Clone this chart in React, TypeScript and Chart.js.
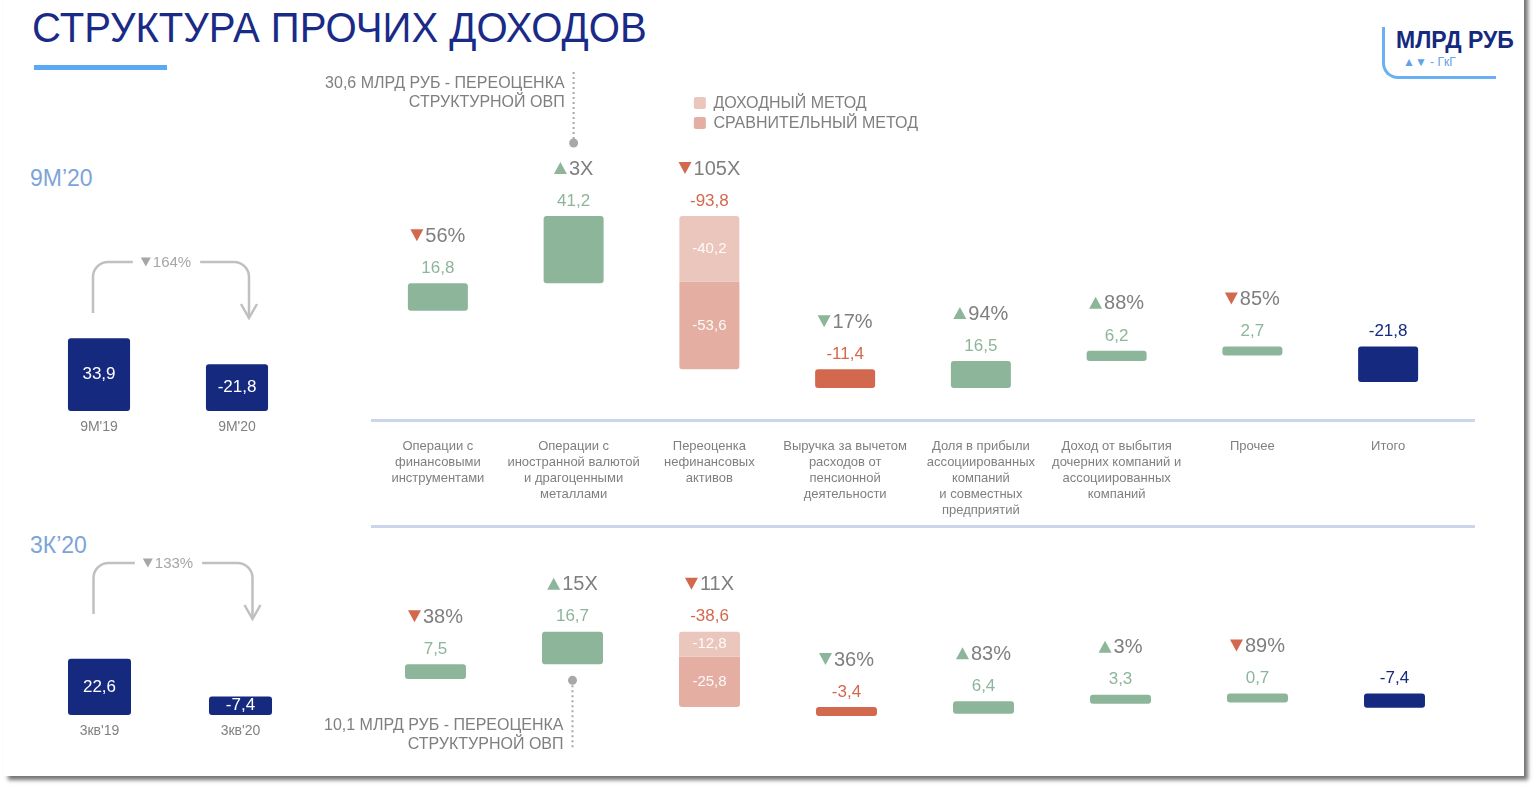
import React, { useEffect, useRef } from "react";
import { Chart, registerables } from "chart.js";
Chart.register(...registerables);

// ---------------- DATA ----------------
const categories: string[][] = [
  ["Операции с", "финансовыми", "инструментами"],
  ["Операции с", "иностранной валютой", "и драгоценными", "металлами"],
  ["Переоценка", "нефинансовых", "активов"],
  ["Выручка за вычетом", "расходов от", "пенсионной", "деятельности"],
  ["Доля в прибыли", "ассоциированных", "компаний", "и совместных", "предприятий"],
  ["Доход от выбытия", "дочерних компаний и", "ассоциированных", "компаний"],
  ["Прочее"],
  ["Итого"],
];

const steps9m = [16.8, 41.2, -93.8, -11.4, 16.5, 6.2, 2.7];
const total9m = -21.8;
const revaluationParts9m = [-40.2, -53.6]; // доходный, сравнительный метод
const change9m = ["56%", "3X", "105X", "17%", "94%", "88%", "85%"];
const changeUp9m = [false, true, false, false, true, true, false];
const changeGood9m = [false, true, false, true, true, true, false];
const callout9m = ["30,6 МЛРД РУБ - ПЕРЕОЦЕНКА", "СТРУКТУРНОЙ ОВП"];

const steps3q = [7.5, 16.7, -38.6, -3.4, 6.4, 3.3, 0.7];
const total3q = -7.4;
const revaluationParts3q = [-12.8, -25.8];
const change3q = ["38%", "15X", "11X", "36%", "83%", "3%", "89%"];
const changeUp3q = [false, true, false, false, true, true, false];
const changeGood3q = [false, true, false, true, true, true, false];
const callout3q = ["10,1 МЛРД РУБ - ПЕРЕОЦЕНКА", "СТРУКТУРНОЙ ОВП"];

const legendLabels = ["ДОХОДНЫЙ МЕТОД", "СРАВНИТЕЛЬНЫЙ МЕТОД"];
const SPLIT_INDEX = 2;
const CALLOUT_INDEX = 1;

const periodLabels9m = ["9M'19", "9M'20"];
const periodValues9m = [33.9, -21.8];
const periodChange9m = "164%";
const periodLabels3q = ["3кв'19", "3кв'20"];
const periodValues3q = [22.6, -7.4];
const periodChange3q = "133%";

// ---------------- STYLE ----------------
const FONT = '"Liberation Sans", Arial, Helvetica, sans-serif';
const GREEN = "#8db59a";
const RED = "#d2694e";
const NAVY = "#15297f";
const GRAY = "#7f7f7f";
const INCOME_COLOR = "#ebc6bc";
const COMPARE_COLOR = "#e4afa2";

const fmt = (v: number) => v.toFixed(1).replace(".", ",");

function drawTriangle(ctx: CanvasRenderingContext2D, x: number, y: number, w: number, h: number, up: boolean, color: string) {
  ctx.beginPath();
  if (up) {
    ctx.moveTo(x, y + h / 2);
    ctx.lineTo(x + w / 2, y - h / 2);
    ctx.lineTo(x + w, y + h / 2);
  } else {
    ctx.moveTo(x, y - h / 2);
    ctx.lineTo(x + w, y - h / 2);
    ctx.lineTo(x + w / 2, y + h / 2);
  }
  ctx.closePath();
  ctx.fillStyle = color;
  ctx.fill();
}

type WFProps = {
  steps: number[];
  total: number;
  parts: number[];
  change: string[];
  up: boolean[];
  good: boolean[];
  callout: string[];
  calloutBelow: boolean;
  showCategories: boolean;
  showLegend: boolean;
  left: number;
  top: number;
  width: number;
  height: number;
  padTop: number;
  padBottom: number;
  padLeft: number;
  yMin: number;
  yMax: number;
  barPct: number;
};

function WaterfallChart(p: WFProps) {
  const ref = useRef<HTMLCanvasElement>(null);
  useEffect(() => {
    let cum = 0;
    const main: any[] = [];
    const inc: any[] = [];
    const cmp: any[] = [];
    p.steps.forEach((v, i) => {
      const s = cum;
      cum += v;
      if (i === SPLIT_INDEX) {
        main.push(null);
        inc.push([s, s + p.parts[0]]);
        cmp.push([s + p.parts[0], s + p.parts[0] + p.parts[1]]);
      } else {
        main.push([s, cum]);
        inc.push(null);
        cmp.push(null);
      }
    });
    // итоговый столбец подвешен к конечному уровню
    main.push([cum, cum + p.total]);
    inc.push(null);
    cmp.push(null);
    const colors = [...p.steps.map((v) => (v >= 0 ? GREEN : RED)), NAVY];

    const plugin = {
      id: "wfLabels",
      afterDatasetsDraw(chart: any) {
        const ctx: CanvasRenderingContext2D = chart.ctx;
        const area = chart.chartArea;
        const mMain = chart.getDatasetMeta(0);
        const mInc = chart.getDatasetMeta(1);
        const mCmp = chart.getDatasetMeta(2);
        const n = p.steps.length + 1;
        const geom: { cx: number; top: number; bottom: number }[] = [];
        ctx.save();
        ctx.textBaseline = "middle";
        for (let i = 0; i < n; i++) {
          let top: number, bottom: number, cx: number;
          if (i === SPLIT_INDEX) {
            const a = mInc.data[i];
            const b = mCmp.data[i];
            top = Math.min(a.y, a.base);
            bottom = Math.max(b.y, b.base);
            cx = a.x;
            ctx.font = `15px ${FONT}`;
            ctx.fillStyle = "rgba(255,255,255,0.92)";
            ctx.textAlign = "center";
            ctx.fillText(fmt(p.parts[0]), cx, (a.y + a.base) / 2);
            ctx.fillText(fmt(p.parts[1]), cx, (b.y + b.base) / 2);
          } else {
            const e = mMain.data[i];
            top = Math.min(e.y, e.base);
            bottom = Math.max(e.y, e.base);
            cx = e.x;
          }
          geom.push({ cx, top, bottom });
          const isTotal = i === n - 1;
          const v = isTotal ? p.total : p.steps[i];
          ctx.font = `17px ${FONT}`;
          ctx.textAlign = "center";
          ctx.fillStyle = isTotal ? NAVY : v >= 0 ? GREEN : RED;
          const vy = top - 15;
          ctx.fillText(fmt(v), cx, vy);
          if (!isTotal) {
            const cy = vy - 33;
            ctx.font = `20px ${FONT}`;
            const t = p.change[i];
            const tw = ctx.measureText(t).width;
            const triW = 13, triH = 12, gap = 2;
            const x0 = cx - (triW + gap + tw) / 2;
            drawTriangle(ctx, x0, cy, triW, triH, p.up[i], p.good[i] ? GREEN : RED);
            ctx.textAlign = "left";
            ctx.fillStyle = GRAY;
            ctx.fillText(t, x0 + triW + gap, cy + 1);
          }
          if (p.showCategories) {
            ctx.font = `13px ${FONT}`;
            ctx.textAlign = "center";
            ctx.fillStyle = GRAY;
            const x = chart.scales.x.getPixelForValue(i);
            categories[i].forEach((line, k) => {
              ctx.fillText(line, x, area.bottom + 26 + k * 16);
            });
          }
        }
        // callout
        const g = geom[CALLOUT_INDEX];
        ctx.strokeStyle = "#a8a8a8";
        ctx.fillStyle = "#a8a8a8";
        ctx.lineWidth = 2;
        ctx.setLineDash([2, 3]);
        let dotY: number, lineA: number, lineB: number, textY: number;
        if (p.calloutBelow) {
          dotY = g.bottom + 16;
          lineA = dotY;
          lineB = dotY + 70;
          textY = dotY + 45;
        } else {
          dotY = area.top + 3;
          lineA = area.top - 68;
          lineB = dotY;
          textY = area.top - 56;
        }
        ctx.beginPath();
        ctx.moveTo(g.cx, lineA);
        ctx.lineTo(g.cx, lineB);
        ctx.stroke();
        ctx.setLineDash([]);
        ctx.beginPath();
        ctx.arc(g.cx, dotY, 4.5, 0, Math.PI * 2);
        ctx.fill();
        ctx.font = `16px ${FONT}`;
        ctx.fillStyle = GRAY;
        ctx.textAlign = "right";
        p.callout.forEach((line, k) => ctx.fillText(line, g.cx - 9, textY + k * 19));
        // legend
        if (p.showLegend) {
          const s = geom[SPLIT_INDEX];
          const cols = [INCOME_COLOR, COMPARE_COLOR];
          legendLabels.forEach((lab, k) => {
            const y = area.top - 37 + k * 20;
            ctx.fillStyle = cols[k];
            ctx.beginPath();
            (ctx as any).roundRect(s.cx - 15.5, y - 6, 12, 12, 2);
            ctx.fill();
            ctx.fillStyle = GRAY;
            ctx.textAlign = "left";
            ctx.font = `16px ${FONT}`;
            ctx.fillText(lab, s.cx + 4, y + 1);
          });
        }
        ctx.restore();
      },
    };

    const common = {
      grouped: false,
      barPercentage: p.barPct,
      categoryPercentage: 1,
      borderSkipped: false,
    };
    const chart = new Chart(ref.current!, {
      type: "bar",
      data: {
        labels: categories.map((c) => c.join(" ")),
        datasets: [
          { ...common, data: main, backgroundColor: colors, borderRadius: 3, minBarLength: 9 } as any,
          {
            ...common,
            data: inc,
            backgroundColor: INCOME_COLOR,
            borderRadius: { topLeft: 3, topRight: 3, bottomLeft: 0, bottomRight: 0 },
          } as any,
          {
            ...common,
            data: cmp,
            backgroundColor: COMPARE_COLOR,
            borderRadius: { topLeft: 0, topRight: 0, bottomLeft: 3, bottomRight: 3 },
          } as any,
        ],
      },
      options: {
        responsive: false,
        animation: false,
        devicePixelRatio: 1,
        layout: { padding: { top: p.padTop, bottom: p.padBottom, left: p.padLeft, right: 0 } },
        plugins: { legend: { display: false }, tooltip: { enabled: false } },
        scales: {
          x: { display: false, offset: true, grid: { display: false } },
          y: { display: false, min: p.yMin, max: p.yMax },
        },
      } as any,
      plugins: [plugin],
    });
    return () => chart.destroy();
  }, []);
  return (
    <canvas
      ref={ref}
      width={p.width}
      height={p.height}
      style={{ position: "absolute", left: p.left, top: p.top, width: p.width, height: p.height }}
    />
  );
}

type SmallProps = {
  labels: string[];
  values: number[];
  change: string;
  left: number;
  top: number;
  width: number;
  height: number;
  padTop: number;
  padBottom: number;
  yMax: number;
  barPct: number;
};

function PeriodChart(p: SmallProps) {
  const ref = useRef<HTMLCanvasElement>(null);
  useEffect(() => {
    const plugin = {
      id: "periodLabels",
      afterDatasetsDraw(chart: any) {
        const ctx: CanvasRenderingContext2D = chart.ctx;
        const area = chart.chartArea;
        const meta = chart.getDatasetMeta(0);
        ctx.save();
        ctx.textBaseline = "middle";
        ctx.textAlign = "center";
        meta.data.forEach((e: any, i: number) => {
          ctx.font = `17px ${FONT}`;
          ctx.fillStyle = "#ffffff";
          ctx.fillText(fmt(p.values[i]), e.x, (e.y + e.base) / 2);
          ctx.font = `14px ${FONT}`;
          ctx.fillStyle = "#808080";
          ctx.fillText(p.labels[i], e.x, e.base + 16);
        });
        // connector arrow
        const b0 = meta.data[0];
        const b1 = meta.data[1];
        const hy = area.top + 12;
        const xl = b0.x - 6;
        const xr = b1.x + 12;
        const r = 15;
        const mid = (xl + xr) / 2 - 5;
        ctx.font = `15px ${FONT}`;
        const tw = ctx.measureText(p.change).width;
        const triW = 10, gap = 2;
        const totalW = triW + gap + tw;
        const tl = mid - totalW / 2;
        const tr = mid + totalW / 2;
        drawTriangle(ctx, tl, hy, triW, 9, false, "#a6a6a6");
        ctx.fillStyle = "#a6a6a6";
        ctx.textAlign = "left";
        ctx.fillText(p.change, tl + triW + gap, hy + 1);
        ctx.strokeStyle = "#c0c0c0";
        ctx.lineWidth = 2.5;
        ctx.beginPath();
        ctx.moveTo(xl, hy + 51);
        ctx.lineTo(xl, hy + r);
        ctx.arcTo(xl, hy, xl + r, hy, r);
        ctx.lineTo(tl - 8, hy);
        ctx.stroke();
        ctx.beginPath();
        ctx.moveTo(tr + 9, hy);
        ctx.lineTo(xr - r, hy);
        ctx.arcTo(xr, hy, xr, hy + r, r);
        ctx.lineTo(xr, hy + 56);
        ctx.stroke();
        ctx.beginPath();
        ctx.moveTo(xr - 8, hy + 42);
        ctx.lineTo(xr, hy + 56);
        ctx.lineTo(xr + 8, hy + 42);
        ctx.stroke();
        ctx.restore();
      },
    };
    const chart = new Chart(ref.current!, {
      type: "bar",
      data: {
        labels: p.labels,
        datasets: [
          {
            data: p.values.map((v) => Math.abs(v)),
            backgroundColor: NAVY,
            borderRadius: 3,
            borderSkipped: false,
            barPercentage: p.barPct,
            categoryPercentage: 1,
          } as any,
        ],
      },
      options: {
        responsive: false,
        animation: false,
        devicePixelRatio: 1,
        layout: { padding: { top: p.padTop, bottom: p.padBottom, left: 0, right: 0 } },
        plugins: { legend: { display: false }, tooltip: { enabled: false } },
        scales: {
          x: { display: false, offset: true },
          y: { display: false, min: 0, max: p.yMax },
        },
      } as any,
      plugins: [plugin],
    });
    return () => chart.destroy();
  }, []);
  return (
    <canvas
      ref={ref}
      width={p.width}
      height={p.height}
      style={{ position: "absolute", left: p.left, top: p.top, width: p.width, height: p.height }}
    />
  );
}

export default function App() {
  const abs = (o: React.CSSProperties): React.CSSProperties => ({ position: "absolute", ...o });
  return (
    <div
      style={{
        position: "fixed",
        left: 0,
        top: 0,
        width: 1536,
        height: 790,
        background: "#ffffff",
        overflow: "hidden",
        fontFamily: FONT,
      }}
    >
      <div
        style={abs({
          left: 4,
          top: -10,
          width: 1520,
          height: 786,
          background: "#ffffff",
          boxShadow: "4px 4px 4px rgba(0,0,0,0.55)",
        })}
      />
      <div
        style={abs({
          left: 32,
          top: 7,
          fontSize: 42,
          lineHeight: "42px",
          color: "#1a2b87",
          whiteSpace: "nowrap",
          transform: "scaleX(0.955)",
          transformOrigin: "left top",
        })}
      >
        СТРУКТУРА ПРОЧИХ ДОХОДОВ
      </div>
      <div style={abs({ left: 34, top: 65, width: 133, height: 5, background: "#5aa9f2" })} />

      <div
        style={abs({
          left: 1382,
          top: 27,
          width: 111,
          height: 49,
          borderLeft: "3px solid #6ab0f2",
          borderBottom: "3px solid #6ab0f2",
          borderBottomLeftRadius: 16,
        })}
      />
      <div style={abs({ left: 1396, top: 29, fontSize: 23, lineHeight: "23px", fontWeight: 700, color: NAVY, whiteSpace: "nowrap" })}>
        МЛРД РУБ
      </div>
      <div style={abs({ left: 1403, top: 55, fontSize: 12, lineHeight: "14px", color: "#5da2ea", whiteSpace: "nowrap" })}>
        ▲▼ - ГкГ
      </div>

      <div style={abs({ left: 30, top: 167, fontSize: 23, lineHeight: "23px", color: "#7da4d9" })}>9M’20</div>
      <div style={abs({ left: 30, top: 534, fontSize: 23, lineHeight: "23px", color: "#7da4d9" })}>3К’20</div>

      <div style={abs({ left: 371, top: 419, width: 1104, height: 3, background: "#cad7ea" })} />
      <div style={abs({ left: 371, top: 525, width: 1104, height: 3, background: "#cad7ea" })} />

      <WaterfallChart
        steps={steps9m}
        total={total9m}
        parts={revaluationParts9m}
        change={change9m}
        up={changeUp9m}
        good={changeGood9m}
        callout={callout9m}
        calloutBelow={false}
        showCategories={true}
        showLegend={true}
        left={300}
        top={60}
        width={1156}
        height={460}
        padTop={80}
        padBottom={100}
        padLeft={70}
        yMin={-66.8}
        yMax={104.5}
        barPct={0.442}
      />
      <WaterfallChart
        steps={steps3q}
        total={total3q}
        parts={revaluationParts3q}
        change={change3q}
        up={changeUp3q}
        good={changeGood3q}
        callout={callout3q}
        calloutBelow={true}
        showCategories={false}
        showLegend={false}
        left={297}
        top={530}
        width={1166}
        height={230}
        padTop={30}
        padBottom={20}
        padLeft={70}
        yMin={-31.3}
        yMax={61}
        barPct={0.445}
      />
      <PeriodChart
        labels={periodLabels9m}
        values={periodValues9m}
        change={periodChange9m}
        left={30}
        top={240}
        width={276}
        height={206}
        padTop={10}
        padBottom={35}
        yMax={75}
        barPct={0.45}
      />
      <PeriodChart
        labels={periodLabels3q}
        values={periodValues3q}
        change={periodChange3q}
        left={29}
        top={541}
        width={282}
        height={209}
        padTop={10}
        padBottom={35}
        yMax={66}
        barPct={0.447}
      />
    </div>
  );
}
